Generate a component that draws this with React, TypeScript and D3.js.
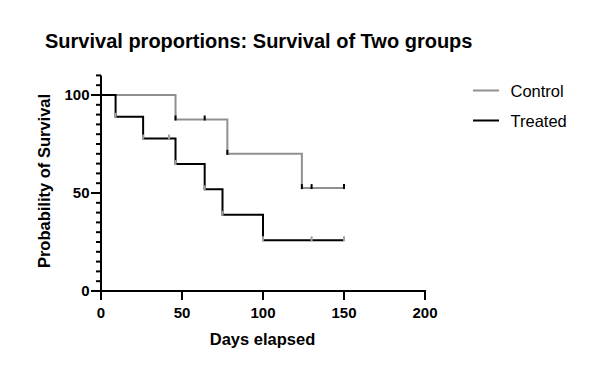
import React from "react";
import * as d3 from "d3";

const seriesNames = ["Control", "Treated"];
const seriesColors = ["#909090", "#000000"];
const markColors = ["#000000", "#a0a0a0"];

// Kaplan-Meier steps: [day, survival %]
const controlSteps: [number, number][] = [
  [0, 100], [46, 87.5], [78, 70], [124, 52.5], [150, 52.5],
];
const controlCensor = [64, 130, 150];

const treatedSteps: [number, number][] = [
  [0, 100], [9, 88.9], [26, 77.8], [46, 64.8], [64, 51.9], [75, 38.9], [100, 25.9], [150, 25.9],
];
const treatedCensor = [42, 130, 150];

const xTicks = [0, 50, 100, 150, 200];
const yTicks = [0, 50, 100];
const yMinorTicks = d3.range(0, 111, 5);

const title = "Survival proportions: Survival of Two groups";
const xLabel = "Days elapsed";
const yLabel = "Probability of Survival";

const W = 594, H = 383;
const FONT = "'Liberation Sans', Arial, Helvetica, sans-serif";

export default function App() {
  const x = d3.scaleLinear().domain([0, 200]).range([101, 425]);
  const y = d3.scaleLinear().domain([0, 100]).range([291, 95]);
  const yTop = y(110);

  const stepPath = (steps: [number, number][]) => {
    const line = d3.line<[number, number]>().x(d => x(d[0])).y(d => y(d[1])).curve(d3.curveStepAfter);
    return line(steps) || "";
  };

  const survAt = (steps: [number, number][], t: number) => {
    let v = steps[0][1];
    for (const s of steps) if (s[0] <= t) v = s[1];
    return v;
  };

  const series = [
    { steps: controlSteps, censor: controlCensor },
    { steps: treatedSteps, censor: treatedCensor },
  ];

  return (
    <svg width={W} height={H} style={{ display: "block", position: "absolute", left: 0, top: 0 }} fontFamily={FONT}>
      <rect width={W} height={H} fill="#fff" />
      <text x={45} y={48} fontSize={20} fontWeight="bold" fill="#000">{title}</text>

      {/* series */}
      {series.map((s, i) => {
        const corners = s.steps.slice(1, -1).map(d => d[0]);
        const marks = [...corners, ...s.censor];
        return (
          <g key={i}>
            <path d={stepPath(s.steps)} fill="none" stroke={seriesColors[i]} strokeWidth={2} />
            {marks.map((m, j) => {
              const v = survAt(s.steps, m);
              return (
                <line key={j} x1={x(m)} x2={x(m)} y1={y(v) - 4} y2={y(v) + 1}
                  stroke={markColors[i]} strokeWidth={2} />
              );
            })}
          </g>
        );
      })}

      {/* y axis */}
      <line x1={x(0)} x2={x(0)} y1={yTop} y2={y(0) + 1} stroke="#000" strokeWidth={2} />
      {yMinorTicks.map(t => (
        <line key={"m" + t} x1={x(0) - (t % 50 === 0 ? 10 : 5)} x2={x(0)} y1={y(t)} y2={y(t)} stroke="#000" strokeWidth={2} />
      ))}
      {yTicks.map(t => (
        <text key={t} x={89.5} y={y(t)} dy="0.36em" textAnchor="end" fontSize={15} fontWeight="bold">{t}</text>
      ))}

      {/* x axis */}
      <line x1={x(0) - 1} x2={x(200) + 1} y1={y(0)} y2={y(0)} stroke="#000" strokeWidth={2} />
      {xTicks.map(t => (
        <g key={t}>
          <line x1={x(t)} x2={x(t)} y1={y(0)} y2={y(0) + 9} stroke="#000" strokeWidth={2} />
          <text x={x(t)} y={318} textAnchor="middle" fontSize={15} fontWeight="bold">{t}</text>
        </g>
      ))}

      <text x={262.5} y={345} textAnchor="middle" fontSize={16.5} fontWeight="bold">{xLabel}</text>
      <text transform={`translate(49.5,181) rotate(-90)`} textAnchor="middle" fontSize={16.5} fontWeight="bold">{yLabel}</text>

      {/* legend */}
      {seriesNames.map((n, i) => (
        <g key={n}>
          <line x1={473} x2={499} y1={90.5 + i * 30} y2={90.5 + i * 30} stroke={seriesColors[i]} strokeWidth={2} />
          <text x={510.5} y={97 + i * 30} fontSize={16.5}>{n}</text>
        </g>
      ))}
    </svg>
  );
}
